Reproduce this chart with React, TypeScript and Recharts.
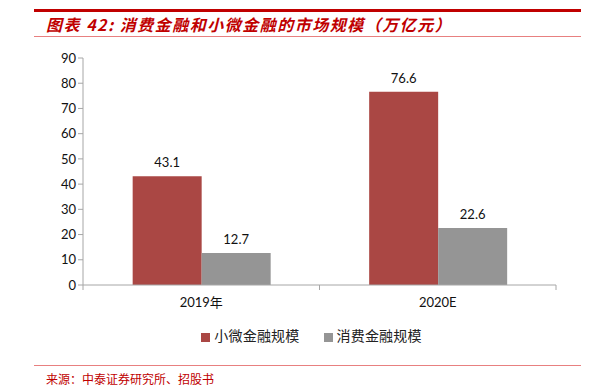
import { BarChart, Bar, XAxis, YAxis, Legend, LabelList } from "recharts";

const categories = ["2019年", "2020E"];
const microFinance = [43.1, 76.6];
const consumerFinance = [12.7, 22.6];
const yTicks = [0, 10, 20, 30, 40, 50, 60, 70, 80, 90];

const data = categories.map((name, i) => ({
  name,
  micro: microFinance[i],
  consumer: consumerFinance[i],
}));

const AXIS = "#a6a6a6";
const FONT = "Lato, 'Noto Sans CJK SC', sans-serif";

function CategoryTick(props: any) {
  const { x, y, payload, index } = props;
  const half = payload.offset || 0;
  return (
    <g>
      <line x1={x - half} x2={x - half} y1={y - 8} y2={y - 3} stroke={AXIS} />
      {index === categories.length - 1 && (
        <line x1={x + half} x2={x + half} y1={y - 8} y2={y - 3} stroke={AXIS} />
      )}
      <text x={x} y={y + 14} textAnchor="middle" fontSize={13} fill="#111" fontFamily={FONT}>
        {payload.value}
      </text>
    </g>
  );
}

export default function App() {
  return (
    <div style={{ position: "absolute", left: 0, top: 0, width: 591, height: 392, background: "#fff", fontFamily: "'Noto Sans CJK SC', sans-serif" }}>
      <div style={{ position: "absolute", left: 34, top: 9, width: 547, height: 3, background: "#c00000" }} />
      <div
        style={{
          position: "absolute",
          left: 46,
          top: 12,
          fontSize: 16,
          fontWeight: 700,
          fontStyle: "italic",
          color: "#c00000",
          letterSpacing: 1.5,
          whiteSpace: "nowrap",
        }}
      >
        图表 42:  消费金融和小微金融的市场规模（万亿元）
      </div>
      <div style={{ position: "absolute", left: 34, top: 36, width: 547, height: 1, background: "#e88080" }} />

      <div style={{ position: "absolute", left: 0, top: 0 }}>
        <BarChart
          width={591}
          height={392}
          data={data}
          margin={{ top: 58, right: 35, left: 43, bottom: 77 }}
          barCategoryGap="21%"
          barGap={0}
        >
          <YAxis
            domain={[0, 90]}
            ticks={yTicks}
            width={40}
            interval={0}
            tick={{ fontSize: 13, fill: "#111", fontFamily: FONT }}
            axisLine={{ stroke: AXIS }}
            tickLine={{ stroke: AXIS }}
            tickSize={5}
          />
          <XAxis
            dataKey="name"
            height={30}
            axisLine={{ stroke: AXIS }}
            tickLine={false}
            tick={<CategoryTick />}
            interval={0}
          />
          <Legend
            verticalAlign="middle"
            align="center"
            layout="horizontal"
            iconType="square"
            iconSize={9}
            wrapperStyle={{ top: 325, left: 28, width: 591, fontSize: 14 }}
            formatter={(v) => (
              <span style={{ color: "#222", fontSize: 14, paddingRight: 14, letterSpacing: 0.2 }}>{v}</span>
            )}
          />
          <Bar dataKey="micro" name="小微金融规模" fill="#aa4744" isAnimationActive={false}>
            <LabelList dataKey="micro" position="top" offset={9} fontSize={13} fill="#111" fontFamily={FONT} />
          </Bar>
          <Bar dataKey="consumer" name="消费金融规模" fill="#959595" isAnimationActive={false}>
            <LabelList dataKey="consumer" position="top" offset={9} fontSize={13} fill="#111" fontFamily={FONT} />
          </Bar>
        </BarChart>
      </div>

      <div style={{ position: "absolute", left: 34, top: 365, width: 547, height: 1, background: "#e88080" }} />
      <div style={{ position: "absolute", left: 46, top: 370, fontSize: 12, color: "#c00000", whiteSpace: "nowrap" }}>
        来源：中泰证券研究所、招股书
      </div>
    </div>
  );
}
